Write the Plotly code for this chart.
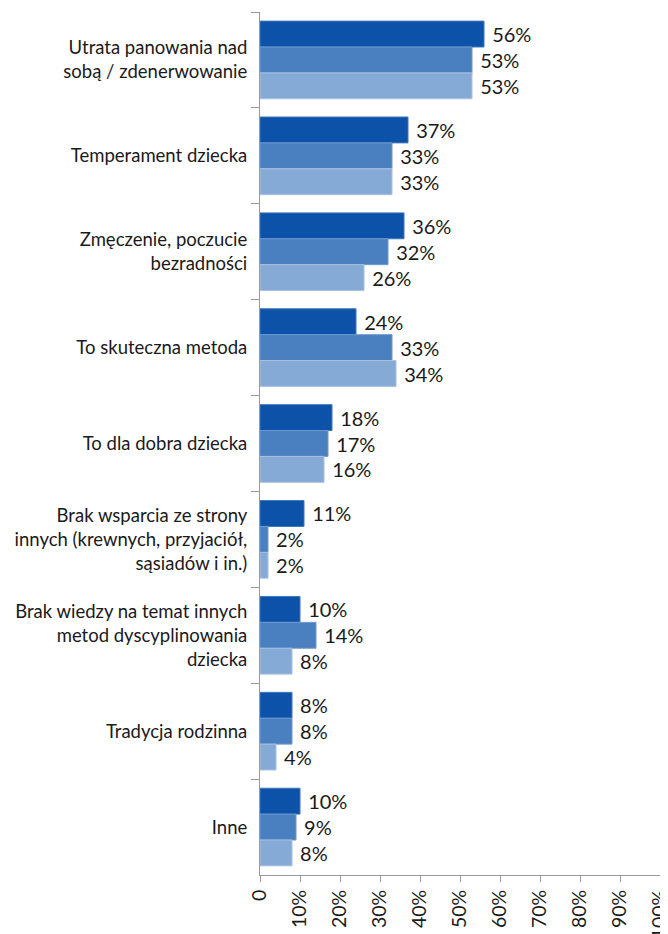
import plotly.graph_objects as go

categories = [
    "Utrata panowania nad<br>sobą / zdenerwowanie",
    "Temperament dziecka",
    "Zmęczenie, poczucie<br>bezradności",
    "To skuteczna metoda",
    "To dla dobra dziecka",
    "Brak wsparcia ze strony<br>innych (krewnych, przyjaciół,<br>sąsiadów i in.)",
    "Brak wiedzy na temat innych<br>metod dyscyplinowania<br>dziecka",
    "Tradycja rodzinna",
    "Inne",
]
series_a = [56, 37, 36, 24, 18, 11, 10, 8, 10]
series_b = [53, 33, 32, 33, 17, 2, 14, 8, 9]
series_c = [53, 33, 26, 34, 16, 2, 8, 4, 8]
colors = ["#0B52A8", "#4A7FC0", "#86AAD6"]
border = ["#3F76BE", "#7099CF", "#A9C2E3"]
x_ticks = [0, 10, 20, 30, 40, 50, 60, 70, 80, 90, 100]
x_tick_labels = ["0"] + [f"{v}%" for v in x_ticks[1:]]

fig = go.Figure()
for vals, c, b in zip([series_a, series_b, series_c], colors, border):
    fig.add_trace(go.Bar(
        y=categories, x=vals, orientation="h",
        marker=dict(color=c, line=dict(color=b, width=1)),
        text=[f" {v}%" for v in vals], textposition="outside",
        textfont=dict(size=20, color="#1a1a1a", family="Lato"),
        cliponaxis=False, showlegend=False,
    ))

fig.update_layout(
    width=660, height=926,
    margin=dict(l=252, r=8, t=4, b=59),
    barmode="group", bargap=0.19, bargroupgap=0,
    plot_bgcolor="white", paper_bgcolor="white",
    font=dict(family="Lato", size=18.5, color="#1a1a1a"),
    uniformtext=dict(minsize=20),
)
fig.update_xaxes(
    range=[0, 100], tickvals=x_ticks, ticktext=x_tick_labels,
    tickangle=-90, ticks="outside", ticklen=6, tickcolor="#999",
    showline=True, linecolor="#999", linewidth=1, automargin=False,
    showgrid=False, zeroline=False, tickfont=dict(size=19.5),
    ticklabeloverflow="allow",
)
fig.update_yaxes(
    autorange="reversed", ticks="outside", tickson="boundaries",
    ticklen=8, tickcolor="#999", showline=True, linecolor="#999",
    linewidth=1, showgrid=False, tickfont=dict(size=18.5), automargin=False,
    ticklabelstandoff=8,
)
fig.write_html("out.html")
